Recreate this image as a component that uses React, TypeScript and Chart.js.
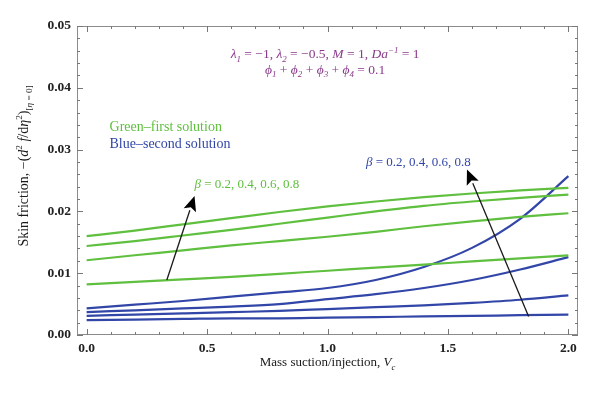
import React, { useEffect, useRef } from "react";
import { Chart, registerables } from "chart.js";
Chart.register(...registerables);

// Mass suction/injection V_c
const vc = [0, 0.2, 0.4, 0.6, 0.8, 1.0, 1.2, 1.4, 1.6, 1.8, 2.0];
// first solution (green), beta = 0.2 .. 0.8 (bottom to top)
const green1 = [0.0160, 0.0169, 0.0179, 0.0189, 0.0199, 0.0208, 0.0216, 0.0223, 0.0229, 0.0234, 0.0238];
const green2 = [0.0144, 0.0152, 0.0161, 0.0170, 0.0180, 0.0190, 0.0200, 0.0209, 0.0216, 0.0222, 0.0227];
const green3 = [0.0121, 0.0129, 0.0137, 0.0145, 0.0152, 0.0159, 0.0167, 0.0176, 0.0184, 0.0191, 0.0197];
const green4 = [0.0082, 0.0086, 0.0090, 0.0094, 0.0099, 0.0104, 0.0109, 0.0114, 0.0119, 0.0124, 0.0129];
// second solution (blue)
const blue1 = [0.0043, 0.0049, 0.0055, 0.0062, 0.0069, 0.0076, 0.0089, 0.0110, 0.0141, 0.0188, 0.0257];
const blue2 = [0.0037, 0.0040, 0.0043, 0.0046, 0.0050, 0.0058, 0.0066, 0.0076, 0.0089, 0.0106, 0.0126];
const blue3 = [0.0031, 0.0033, 0.0035, 0.0037, 0.0039, 0.0042, 0.0045, 0.0048, 0.0052, 0.0057, 0.0064];
const blue4 = [0.0024, 0.0025, 0.0026, 0.0027, 0.0027, 0.0028, 0.0029, 0.0030, 0.0031, 0.0032, 0.0033];

const xTickValues = [0, 0.5, 1.0, 1.5, 2.0];
const yTickValues = [0, 0.01, 0.02, 0.03, 0.04, 0.05];

// arrows [fromX, fromY, toX, toY] in data units
const greenArrow = [0.333, 0.0089, 0.448, 0.0225];
const blueArrow = [1.835, 0.0030, 1.579, 0.0268];

const GREEN = "#5fbf3e";
const BLUE = "#3246a8";
const PURPLE = "#8a3a8c";
const FONT = '"Liberation Serif", "DejaVu Serif", serif';

type Seg = { t: string; i?: boolean; sub?: boolean; sup?: boolean };

function fontFor(s: Seg, size: number) {
  const sz = s.sub || s.sup ? size * 0.66 : size;
  return `${s.i ? "italic " : ""}${sz}px ${FONT}`;
}
function richWidth(ctx: CanvasRenderingContext2D, segs: Seg[], size: number) {
  let w = 0;
  for (const s of segs) {
    ctx.font = fontFor(s, size);
    w += ctx.measureText(s.t).width;
  }
  return w;
}
function drawRich(
  ctx: CanvasRenderingContext2D,
  segs: Seg[],
  x: number,
  y: number,
  size: number,
  color: string,
  align: "left" | "center"
) {
  const w = richWidth(ctx, segs, size);
  let cx = align === "center" ? x - w / 2 : x;
  const base = y + size * 0.33;
  ctx.textAlign = "left";
  ctx.textBaseline = "alphabetic";
  ctx.fillStyle = color;
  for (const s of segs) {
    ctx.font = fontFor(s, size);
    const dy = s.sub ? size * 0.28 : s.sup ? -size * 0.38 : 0;
    ctx.fillText(s.t, cx, base + dy);
    cx += ctx.measureText(s.t).width;
  }
}

const line1: Seg[] = [
  { t: "λ", i: true }, { t: "1", i: true, sub: true }, { t: " = −1, " },
  { t: "λ", i: true }, { t: "2", i: true, sub: true }, { t: " = −0.5, " },
  { t: "M", i: true }, { t: " = 1, " },
  { t: "Da", i: true }, { t: "−1", i: true, sup: true }, { t: " = 1" },
];
const line2: Seg[] = [
  { t: "ϕ", i: true }, { t: "1", i: true, sub: true }, { t: " + " },
  { t: "ϕ", i: true }, { t: "2", i: true, sub: true }, { t: " + " },
  { t: "ϕ", i: true }, { t: "3", i: true, sub: true }, { t: " + " },
  { t: "ϕ", i: true }, { t: "4", i: true, sub: true }, { t: " = 0.1" },
];
const betaText: Seg[] = [{ t: "β", i: true }, { t: " = 0.2, 0.4, 0.6, 0.8" }];
const yTitle: Seg[] = [
  { t: "Skin friction, −(" }, { t: "d", i: true }, { t: "2", sup: true },
  { t: " f", i: true }, { t: "/d" }, { t: "η", i: true }, { t: "2", sup: true },
  { t: ")" }, { t: "[", sub: true }, { t: "η", i: true, sub: true }, { t: " = 0]", sub: true },
];
const xTitle: Seg[] = [
  { t: "Mass suction/injection, " }, { t: "V", i: true }, { t: "c", i: true, sub: true },
];

function drawArrow(ctx: CanvasRenderingContext2D, x1: number, y1: number, x2: number, y2: number) {
  const ang = Math.atan2(y2 - y1, x2 - x1);
  const hl = 15, hw = 6.5;
  const bx = x2 - hl * Math.cos(ang), by = y2 - hl * Math.sin(ang);
  ctx.strokeStyle = "#1a1a1a";
  ctx.lineWidth = 1.3;
  ctx.beginPath();
  ctx.moveTo(x1, y1);
  ctx.lineTo(bx, by);
  ctx.stroke();
  ctx.fillStyle = "#000";
  ctx.beginPath();
  ctx.moveTo(x2, y2);
  ctx.lineTo(bx + hw * Math.sin(ang), by - hw * Math.cos(ang));
  ctx.lineTo(bx + 3 * Math.cos(ang), by + 3 * Math.sin(ang));
  ctx.lineTo(bx - hw * Math.sin(ang), by + hw * Math.cos(ang));
  ctx.closePath();
  ctx.fill();
}

const deco = {
  id: "deco",
  afterDatasetsDraw(chart: any) {
    const { ctx, chartArea: a, scales } = chart;
    const x = scales.x, y = scales.y;
    ctx.save();
    // frame
    ctx.strokeStyle = "#8c8c8c";
    ctx.lineWidth = 1;
    ctx.strokeRect(Math.round(a.left) + 0.5, Math.round(a.top) + 0.5, Math.round(a.right - a.left) - 1, Math.round(a.bottom - a.top) - 1);
    // ticks
    ctx.strokeStyle = "#777";
    ctx.beginPath();
    for (let i = 0; i <= 20; i++) {
      const px = Math.round(x.getPixelForValue(i * 0.1)) + 0.5;
      const len = i % 5 === 0 ? 6 : 3;
      ctx.moveTo(px, a.bottom); ctx.lineTo(px, a.bottom - len);
      ctx.moveTo(px, a.top); ctx.lineTo(px, a.top + len);
    }
    for (let i = 0; i <= 25; i++) {
      const py = Math.round(y.getPixelForValue(i * 0.002)) + 0.5;
      const len = i % 5 === 0 ? 6 : 3;
      ctx.moveTo(a.left, py); ctx.lineTo(a.left + len, py);
      ctx.moveTo(a.right, py); ctx.lineTo(a.right - len, py);
    }
    ctx.stroke();

    // arrows
    drawArrow(ctx, x.getPixelForValue(greenArrow[0]), y.getPixelForValue(greenArrow[1]), x.getPixelForValue(greenArrow[2]), y.getPixelForValue(greenArrow[3]));
    drawArrow(ctx, x.getPixelForValue(blueArrow[0]), y.getPixelForValue(blueArrow[1]), x.getPixelForValue(blueArrow[2]), y.getPixelForValue(blueArrow[3]));

    // texts
    drawRich(ctx, line1, x.getPixelForValue(0.99), y.getPixelForValue(0.0455), 13.5, PURPLE, "center");
    drawRich(ctx, line2, x.getPixelForValue(0.99), y.getPixelForValue(0.0430), 13.5, PURPLE, "center");
    drawRich(ctx, [{ t: "Green–first solution" }], x.getPixelForValue(0.095), y.getPixelForValue(0.0338), 14, GREEN, "left");
    drawRich(ctx, [{ t: "Blue–second solution" }], x.getPixelForValue(0.095), y.getPixelForValue(0.0310), 14, BLUE, "left");
    drawRich(ctx, betaText, x.getPixelForValue(0.448), y.getPixelForValue(0.0245), 13, GREEN, "left");
    drawRich(ctx, betaText, x.getPixelForValue(1.16), y.getPixelForValue(0.0281), 13, BLUE, "left");

    // axis titles
    drawRich(ctx, xTitle, (a.left + a.right) / 2, 362, 13, "#1a1a1a", "center");
    ctx.translate(23, 166);
    ctx.rotate(-Math.PI / 2);
    drawRich(ctx, yTitle, 0, 0, 14, "#1a1a1a", "center");
    ctx.restore();
  },
};

export default function App() {
  const ref = useRef<HTMLCanvasElement>(null);
  useEffect(() => {
    if (!ref.current) return;
    const mk = (d: number[], c: string) => ({
      data: vc.map((v, i) => ({ x: v, y: d[i] })),
      borderColor: c,
      borderWidth: 2.2,
      pointRadius: 0,
      fill: false,
      cubicInterpolationMode: "monotone" as const,
    });
    const chart = new Chart(ref.current, {
      type: "line",
      data: {
        datasets: [
          mk(green1, GREEN), mk(green2, GREEN), mk(green3, GREEN), mk(green4, GREEN),
          mk(blue1, BLUE), mk(blue2, BLUE), mk(blue3, BLUE), mk(blue4, BLUE),
        ],
      },
      options: {
        animation: false,
        responsive: false,
        events: [],
        layout: { padding: { top: 26, right: 22, left: 0, bottom: 0 } },
        plugins: { legend: { display: false }, tooltip: { enabled: false }, title: { display: false } },
        scales: {
          x: {
            type: "linear",
            min: -0.04,
            max: 2.04,
            grid: { display: false, drawTicks: false },
            border: { display: false },
            afterFit: (s: any) => { s.height = 58; },
            afterBuildTicks: (s: any) => { s.ticks = xTickValues.map((v) => ({ value: v })); },
            ticks: {
              padding: 5,
              color: "#222",
              font: { family: FONT, size: 13.5, weight: "bold" },
              callback: (v: any) => Number(v).toFixed(1),
            },
          },
          y: {
            type: "linear",
            min: 0,
            max: 0.05,
            grid: { display: false, drawTicks: false },
            border: { display: false },
            afterFit: (s: any) => { s.width = 77; },
            afterBuildTicks: (s: any) => { s.ticks = yTickValues.map((v) => ({ value: v })); },
            ticks: {
              padding: 6,
              color: "#222",
              font: { family: FONT, size: 13.5, weight: "bold" },
              callback: (v: any) => Number(v).toFixed(2),
            },
          },
        },
      },
      plugins: [deco],
    });
    return () => chart.destroy();
  }, []);
  return (
    <div style={{ position: "fixed", left: 0, top: 0, width: 600, height: 393, background: "#fff" }}>
      <canvas ref={ref} width={600} height={393} style={{ width: 600, height: 393 }} />
    </div>
  );
}
